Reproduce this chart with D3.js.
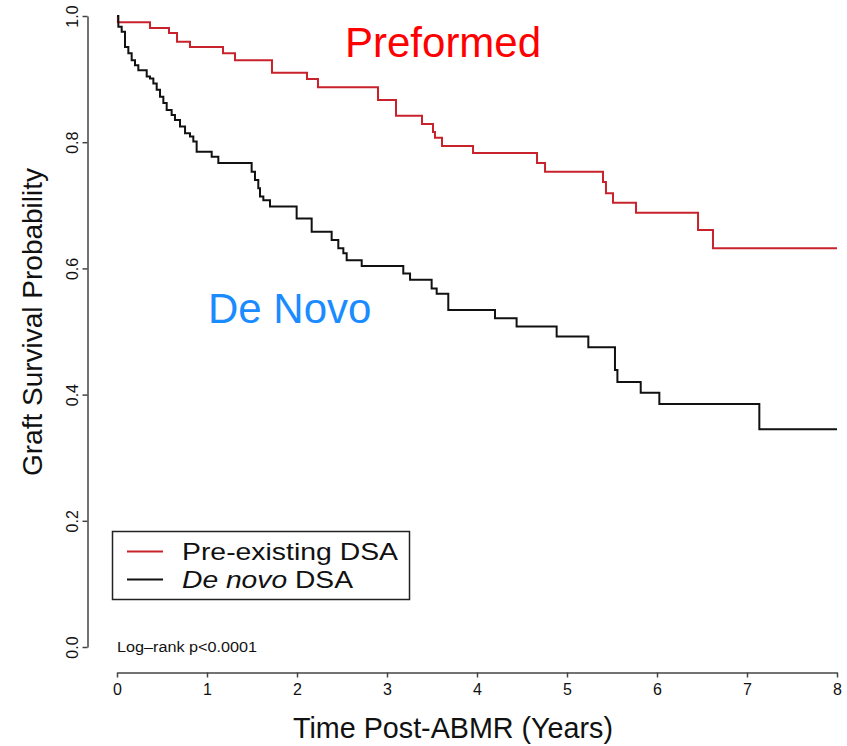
<!DOCTYPE html>
<html lang="en">
<head>
    <meta charset="UTF-8">
    <title>Graft survival after ABMR</title>
    <style>
        * {
            margin: 0;
            box-sizing: border-box;
        }
        body {
            background: #fff;
        }
        svg text {
            font-family: "Liberation Sans", Arial, Helvetica, sans-serif;
        }
    </style>
    <script src="https://unpkg.com/d3@7.6.1/dist/d3.min.js"></script>
    <script>
        // Kaplan-Meier steps (years, survival)
        const preTime=[0, 0.01, 0.367, 0.578, 0.667, 0.811, 1.178, 1.311, 1.722, 2.111, 2.233, 2.9, 3.1, 3.389, 3.511, 3.533, 3.611, 3.956, 4.667, 4.756, 5.4, 5.433, 5.511, 5.767, 6.456, 6.622, 8];
        const preSurv=[1, 0.990, 0.981, 0.973, 0.959, 0.951, 0.941, 0.930, 0.910, 0.900, 0.887, 0.867, 0.842, 0.829, 0.816, 0.807, 0.794, 0.783, 0.767, 0.753, 0.737, 0.719, 0.704, 0.688, 0.661, 0.632, 0.632];

        const novoTime=[0, 0.015, 0.052, 0.089, 0.126, 0.163, 0.2, 0.237, 0.33, 0.367, 0.404, 0.441, 0.478, 0.515, 0.552, 0.607, 0.644, 0.7, 0.756, 0.811, 0.848, 0.885, 1.052, 1.126, 1.496, 1.533, 1.57, 1.589, 1.626, 1.7, 1.996, 2.163, 2.385, 2.459, 2.515, 2.552, 2.719, 3.181, 3.256, 3.496, 3.552, 3.681, 4.2, 4.44, 4.885, 5.237, 5.533, 5.56, 5.819, 6.026, 7.137, 8];
        const novoSurv=[1, 0.983, 0.975, 0.951, 0.941, 0.930, 0.922, 0.914, 0.904, 0.901, 0.893, 0.883, 0.872, 0.862, 0.851, 0.843, 0.835, 0.825, 0.814, 0.809, 0.801, 0.785, 0.777, 0.767, 0.753, 0.740, 0.727, 0.714, 0.708, 0.698, 0.679, 0.658, 0.645, 0.632, 0.624, 0.613, 0.604, 0.592, 0.582, 0.568, 0.560, 0.534, 0.521, 0.508, 0.492, 0.475, 0.439, 0.420, 0.403, 0.385, 0.345, 0.345];

        const xTicks=[0, 1, 2, 3, 4, 5, 6, 7, 8];
        const yTicks=[0, 0.2, 0.4, 0.6, 0.8, 1.0];
        const seriesNames=["Pre-existing DSA", "De novo DSA"];
        const seriesColors=["#c8232c", "#111111"];
    </script>
</head>
<body>
    <div id="chart"></div>
    <script>
        const width=847;
        const height=746;

        const xScale=d3.scaleLinear([0,8],[117,837]);
        const yScale=d3.scaleLinear([0,1],[647,16]);

        const svg=d3.select("#chart").append("svg")
            .attr("width",width)
            .attr("height",height);

        // x axis sits below the y=0 line, like base R
        const xAxis=d3.axisBottom(xScale).tickValues(xTicks).tickFormat(d3.format("d")).tickSize(5).tickSizeOuter(0);
        svg.append("g")
            .attr("transform","translate(0,672.5)")
            .call(xAxis)
            .call(g=>g.select(".domain").attr("stroke","#444").attr("stroke-width",1.5))
            .call(g=>g.selectAll(".tick line").attr("stroke","#444").attr("stroke-width",1.5))
            .call(g=>g.selectAll(".tick text")
                .attr("y",22.5).attr("dy",null)
                .attr("font-size",16).attr("fill","#111")
                .style("font-family","'Liberation Sans', Arial, sans-serif"));

        const yAxis=d3.axisLeft(yScale).tickValues(yTicks).tickFormat(d3.format(".1f")).tickSize(5).tickSizeOuter(0);
        svg.append("g")
            .attr("transform","translate(87.5,0)")
            .call(yAxis)
            .call(g=>g.select(".domain").attr("stroke","#444").attr("stroke-width",1.5))
            .call(g=>g.selectAll(".tick line").attr("stroke","#444").attr("stroke-width",1.5))
            .call(g=>g.selectAll(".tick text")
                .attr("transform","rotate(-90)")
                .attr("x",0).attr("y",-10).attr("dy",null)
                .attr("text-anchor","middle")
                .attr("font-size",16).attr("fill","#111")
                .style("font-family","'Liberation Sans', Arial, sans-serif"));

        const line=d3.line()
            .x(d=>xScale(d[0]))
            .y(d=>yScale(d[1]))
            .curve(d3.curveStepAfter);

        const series=[
            preTime.map((t,i)=>[t,preSurv[i]]),
            novoTime.map((t,i)=>[t,novoSurv[i]])
        ];

        svg.append("g")
            .selectAll("path")
            .data(series)
            .join("path")
              .attr("fill","none")
              .attr("stroke",(d,i)=>seriesColors[i])
              .attr("stroke-width",2)
              .attr("stroke-linejoin","miter")
              .attr("d",line);

        // axis titles
        svg.append("text")
            .attr("transform","translate(42,322) rotate(-90)")
            .attr("text-anchor","middle")
            .attr("font-size",28)
            .attr("fill","#111")
            .text("Graft Survival Probability");

        svg.append("text")
            .attr("x",453)
            .attr("y",738)
            .attr("text-anchor","middle")
            .attr("font-size",30)
            .attr("textLength",320)
            .attr("lengthAdjust","spacingAndGlyphs")
            .attr("fill","#111")
            .text("Time Post-ABMR (Years)");

        // legend
        const legend=svg.append("g");
        legend.append("rect")
            .attr("x",112.5).attr("y",531.5)
            .attr("width",297).attr("height",68)
            .attr("fill","#fff").attr("stroke","#222").attr("stroke-width",1.5);
        const rowY=[551.5,579.5];
        legend.selectAll("line")
            .data(seriesNames)
            .join("line")
              .attr("x1",127).attr("x2",163)
              .attr("y1",(d,i)=>rowY[i]).attr("y2",(d,i)=>rowY[i])
              .attr("stroke",(d,i)=>seriesColors[i])
              .attr("stroke-width",2);
        legend.append("text")
            .attr("x",182).attr("y",rowY[0]+8.5)
            .attr("font-size",24)
            .attr("textLength",216).attr("lengthAdjust","spacingAndGlyphs")
            .attr("fill","#111")
            .text(seriesNames[0]);
        const t2=legend.append("text")
            .attr("x",182).attr("y",rowY[1]+8.5)
            .attr("font-size",24)
            .attr("textLength",171).attr("lengthAdjust","spacingAndGlyphs")
            .attr("fill","#111");
        t2.append("tspan").attr("font-style","italic").text("De novo");
        t2.append("tspan").text(" DSA");

        svg.append("text")
            .attr("x",117).attr("y",651.5)
            .attr("font-size",15.5)
            .attr("textLength",140).attr("lengthAdjust","spacingAndGlyphs")
            .attr("fill","#111")
            .text("Log\u2013rank p<0.0001");

        // group annotations
        svg.append("text")
            .attr("x",345).attr("y",57)
            .attr("font-size",42)
            .attr("fill","#ff0000")
            .text("Preformed");
        svg.append("text")
            .attr("x",208).attr("y",323)
            .attr("font-size",42)
            .attr("fill","#1a8cff")
            .text("De Novo");
    </script>
</body>
</html>
